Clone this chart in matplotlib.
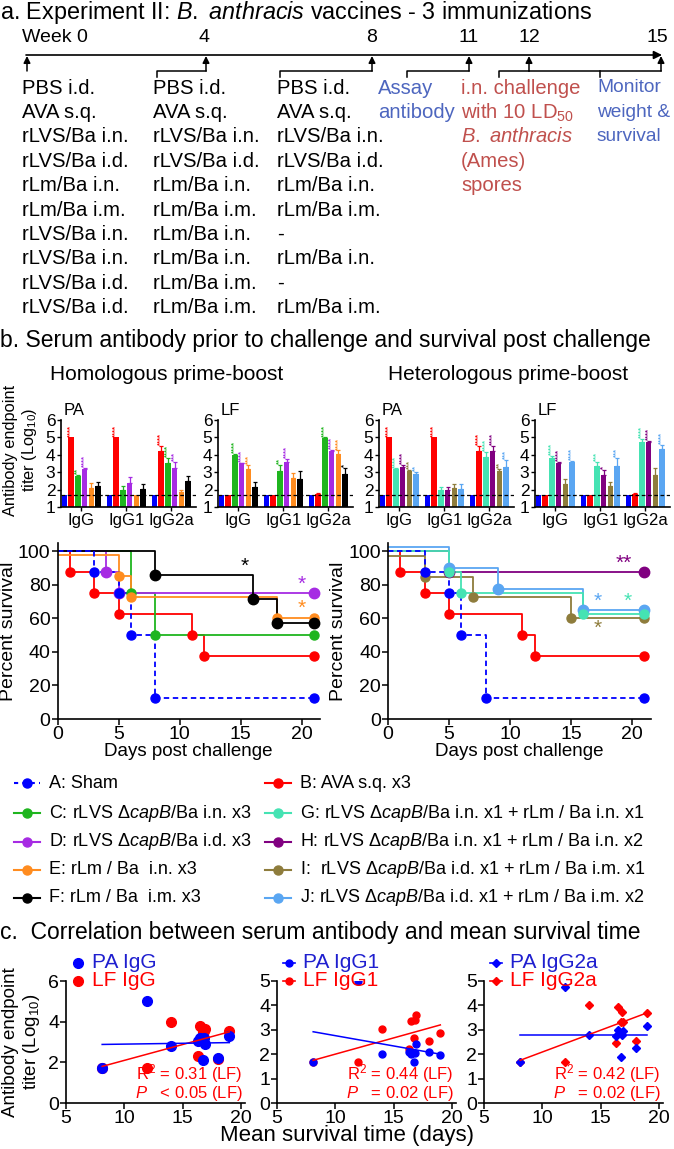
import numpy as np
import matplotlib
matplotlib.use("Agg")
import matplotlib.pyplot as plt

plt.rcParams['font.family'] = ['Liberation Sans', 'DejaVu Sans']
plt.rcParams['mathtext.fontset'] = 'custom'
plt.rcParams['mathtext.rm'] = 'Liberation Sans'
plt.rcParams['mathtext.it'] = 'Liberation Sans:italic'
plt.rcParams['mathtext.bf'] = 'Liberation Sans:bold'
plt.rcParams['axes.linewidth'] = 1.2

W, H = 674, 1149

# ---------------- DATA ----------------
week_labels = ["Week 0", "4", "8", "11", "12", "15"]
sched_wk0 = ["PBS i.d.", "AVA s.q.", "rLVS/Ba i.n.", "rLVS/Ba i.d.", "rLm/Ba i.n.", "rLm/Ba i.m.",
             "rLVS/Ba i.n.", "rLVS/Ba i.n.", "rLVS/Ba i.d.", "rLVS/Ba i.d."]
sched_wk4 = ["PBS i.d.", "AVA s.q.", "rLVS/Ba i.n.", "rLVS/Ba i.d.", "rLm/Ba i.n.", "rLm/Ba i.m.",
             "rLm/Ba i.n.", "rLm/Ba i.n.", "rLm/Ba i.m.", "rLm/Ba i.m."]
sched_wk8 = ["PBS i.d.", "AVA s.q.", "rLVS/Ba i.n.", "rLVS/Ba i.d.", "rLm/Ba i.n.", "rLm/Ba i.m.",
             "-", "rLm/Ba i.n.", "-", "rLm/Ba i.m."]
assay_text = ["Assay", "antibody"]
challenge_text = ["i.n. challenge", "with 10 LD$_{50}$", "$\\it{B.\\ anthracis}$", "(Ames)", "spores"]
monitor_text = ["Monitor", "weight &", "survival"]

isotypes = ["IgG", "IgG1", "IgG2a"]
homo_colors = ["#0000FF", "#FF0000", "#1FB51F", "#A62BE3", "#FF8C1F", "#000000"]
hetero_colors = ["#0000FF", "#FF0000", "#45E3B3", "#800080", "#8E7C3C", "#5AA6F2"]

# rows = isotype (IgG, IgG1, IgG2a), columns = groups
homo_pa = [[1.7, 5.0, 2.8, 3.2, 2.1, 2.2], [1.7, 5.0, 2.0, 2.4, 1.7, 2.05], [1.7, 4.2, 3.55, 3.25, 1.85, 2.5]]
homo_pa_err = [[0, 0, 0.05, 0.05, 0.3, 0.25], [0, 0, 0.2, 0.3, 0, 0.25], [0, 0.3, 0.25, 0.35, 0.15, 0.3]]
homo_pa_stars = [[0, 4, 2, 4, 0, 0], [0, 4, 0, 0, 0, 0], [0, 4, 4, 3, 0, 0]]
homo_lf = [[1.7, 1.7, 4.0, 3.5, 3.2, 2.15], [1.7, 1.7, 3.05, 3.6, 2.65, 2.6], [1.7, 1.75, 4.95, 4.2, 4.05, 2.9]]
homo_lf_err = [[0, 0, 0.05, 0.03, 0.2, 0.3], [0, 0, 0.35, 0.15, 0.3, 0.45], [0, 0.03, 0.05, 0.1, 0.2, 0.35]]
homo_lf_stars = [[0, 0, 4, 4, 3, 0], [0, 0, 2, 4, 0, 0], [0, 0, 4, 4, 4, 1]]
hetero_pa = [[1.7, 5.0, 3.2, 3.3, 3.05, 2.9], [1.7, 5.0, 1.95, 1.95, 2.1, 2.05], [1.7, 4.2, 3.85, 4.2, 3.05, 3.3]]
hetero_pa_err = [[0, 0, 0.02, 0.1, 0.1, 0.1], [0, 0, 0.2, 0.2, 0.25, 0.25], [0, 0.3, 0.3, 0.3, 0.15, 0.4]]
hetero_pa_stars = [[0, 4, 4, 4, 3, 2], [0, 4, 0, 0, 0, 0], [0, 4, 4, 4, 2, 3]]
hetero_lf = [[1.7, 1.7, 3.8, 3.55, 2.3, 3.6], [1.7, 1.7, 3.35, 2.85, 2.2, 3.35], [1.7, 1.75, 4.75, 4.75, 2.85, 4.35]]
hetero_lf_err = [[0, 0, 0.15, 0.05, 0.3, 0.05], [0, 0, 0.25, 0.3, 0.25, 0.45], [0, 0.03, 0.15, 0.05, 0.4, 0.2]]
hetero_lf_stars = [[0, 0, 4, 4, 0, 4], [0, 0, 3, 1, 0, 3], [0, 0, 4, 4, 0, 4]]
detection_limit = 1.7

# survival: (days, percent)
surv_A_t = [0, 3, 5, 6, 8, 21];        surv_A = [100, 87.5, 75, 50, 12.5, 12.5]
surv_B_t = [0, 1, 3, 5, 11, 12, 21];   surv_B = [100, 87.5, 75, 62.5, 50, 37.5, 37.5]
surv_C_t = [0, 6, 8, 21];              surv_C = [100, 75, 50, 50]
surv_D_t = [0, 4, 5, 21];              surv_D = [100, 87.5, 75, 75]
surv_E_t = [0, 5, 6, 18, 21];          surv_E = [98, 85.5, 73, 60.5, 60.5]
surv_F_t = [0, 8, 16, 18, 21];         surv_F = [100, 85.7, 71.4, 57.1, 57.1]
surv_G_t = [0, 5, 6, 16, 21];          surv_G = [100.5, 87.5, 75, 62.5, 62.5]
surv_H_t = [0, 5, 21];                 surv_H = [100, 87.5, 87.5]
surv_I_t = [0, 3, 7, 15, 21];          surv_I = [97.5, 85, 72.5, 60, 60]
surv_J_t = [0, 5, 9, 16, 21];          surv_J = [102.5, 90, 77.5, 65, 65]

legend_left = ["A: Sham", "C: rLVS $\\it{\\Delta capB}$/Ba i.n. x3", "D: rLVS $\\it{\\Delta capB}$/Ba i.d. x3",
               "E: rLm / Ba  i.n. x3", "F: rLm / Ba  i.m. x3"]
legend_right = ["B: AVA s.q. x3", "G: rLVS $\\it{\\Delta capB}$/Ba i.n. x1 + rLm / Ba i.n. x1",
                "H: rLVS $\\it{\\Delta capB}$/Ba i.n. x1 + rLm / Ba i.n. x2",
                "I:  rLVS $\\it{\\Delta capB}$/Ba i.d. x1 + rLm / Ba i.m. x1",
                "J: rLVS $\\it{\\Delta capB}$/Ba i.d. x1 + rLm / Ba i.m. x2"]

# correlation: mean survival time vs titers
mst = [8.1, 11.9, 14.0, 16.3, 16.5, 16.7, 16.8, 16.9, 18.0, 19.0]
pa_igg = [1.7, 5.0, 2.8, 3.05, 3.2, 2.1, 3.2, 2.9, 2.2, 3.3]
lf_igg = [1.7, 1.7, 4.0, 2.3, 3.8, 3.5, 3.55, 3.65, 2.15, 3.55]
pa_igg1 = [1.7, 5.0, 2.0, 2.1, 2.0, 1.7, 2.05, 2.4, 2.1, 1.95]
lf_igg1 = [1.7, 1.7, 3.05, 2.2, 3.35, 2.65, 3.4, 3.6, 2.55, 2.85]
pa_igg2a = [1.7, 4.75, 2.8, 2.75, 3.0, 1.9, 2.8, 2.95, 2.25, 3.15]
lf_igg2a = [1.7, 1.7, 4.0, 2.45, 3.95, 3.3, 3.75, 3.3, 2.55, 3.7]
fit_x = [8.1, 19.0]
pa_igg_fit = [2.88, 2.97]
lf_igg_fit = [1.8, 3.5]
pa_igg1_fit = [2.92, 2.0]
lf_igg1_fit = [1.75, 3.2]
pa_igg2a_fit = [2.8, 2.8]
lf_igg2a_fit = [1.75, 3.7]
stats_text = [("R$^2$ = 0.31 (LF)", "$\\it{P}$   < 0.05 (LF)"),
              ("R$^2$ = 0.44 (LF)", "$\\it{P}$   = 0.02 (LF)"),
              ("R$^2$ = 0.42 (LF)", "$\\it{P}$   = 0.02 (LF)")]

# ---------------- FIGURE ----------------
fig = plt.figure(figsize=(W / 100, H / 100), dpi=100)


def rect(x0, y0, x1, y1):
    return [x0 / W, 1 - y1 / H, (x1 - x0) / W, (y1 - y0) / H]


ov = fig.add_axes([0, 0, 1, 1])
ov.set_xlim(0, W)
ov.set_ylim(H, 0)
ov.axis('off')
ov.set_zorder(10)

ROWFS = 14.6
# ---- panel a ----
ov.text(0, 12, "a. Experiment II: $\\it{B.\\ anthracis}$ vaccines - 3 immunizations", fontsize=16.8, va='center')
week_x = [22, 204, 372, 469, 529, 657]
for i, (lab, x) in enumerate(zip(week_labels, week_x)):
    ov.text(x, 38, lab, fontsize=14, va='center', ha='left' if i == 0 else 'center')
ov.annotate('', xy=(662, 55), xytext=(26, 55),
            arrowprops=dict(arrowstyle='-|>', color='k', lw=1.2, mutation_scale=12, shrinkA=0, shrinkB=0))
arrow_x = [27, 206, 372, 469, 529, 661]
bracket_left = [None, 157, 280, 407, 499, None]
for ax_, bl in zip(arrow_x, bracket_left):
    ov.annotate('', xy=(ax_, 56), xytext=(ax_, 71),
                arrowprops=dict(arrowstyle='-|>', color='k', lw=1.1, mutation_scale=10, shrinkA=0, shrinkB=0))
    if bl is not None:
        ov.plot([bl, bl, ax_], [77, 71, 71], color='k', lw=1.1)
ov.plot([529, 661], [71, 71], color='k', lw=1.1)
ov.plot([600, 600], [71, 77], color='k', lw=1.1)

row_y = [88 + 24.4 * i for i in range(10)]
for colx, rows in zip([22, 153, 277], [sched_wk0, sched_wk4, sched_wk8]):
    for y, t in zip(row_y, rows):
        ov.text(colx, y, t, fontsize=ROWFS, va='center')
for y, t in zip(row_y, assay_text):
    ov.text(378, y, t, fontsize=ROWFS, va='center', color='#4D66BF')
for y, t in zip(row_y, challenge_text):
    ov.text(461, y, t, fontsize=ROWFS, va='center', color='#C0504D')
for y, t in zip(row_y, monitor_text):
    ov.text(597, y, t, fontsize=13.8, va='center', color='#4D66BF')

# ---- panel b ----
ov.text(0, 341, "b. Serum antibody prior to challenge and survival post challenge", fontsize=16.5, va='center')
ov.text(167, 374, "Homologous prime-boost", fontsize=15, va='center', ha='center')
ov.text(508, 374, "Heterologous prime-boost", fontsize=15, va='center', ha='center')
ov.text(21, 450, "Antibody endpoint\ntiter (Log$_{10}$)", fontsize=11.8, rotation=90,
        va='center', ha='center', multialignment='center', linespacing=1.1)


def bar_panel(x0, values, errs, stars, colors, label):
    ax = fig.add_axes(rect(x0, 420, x0 + 135, 507))
    pitch = 0.15
    for gi in range(3):
        for bi in range(6):
            x = gi + (bi - 2.5) * pitch
            v = values[gi][bi]
            ax.bar(x, v - 1, bottom=1, width=0.122, color=colors[bi], zorder=2)
            e = errs[gi][bi]
            if e > 0:
                ax.errorbar(x, v, yerr=[[0], [e]], color=colors[bi], capsize=1.6, elinewidth=0.9,
                            capthick=0.9, zorder=2)
            n = stars[gi][bi]
            if n:
                ax.text(x, v + e + 0.05, "*" * n, rotation=90, ha='center', va='bottom',
                        fontsize=5.5, color=colors[bi], fontweight='bold')
    ax.axhline(detection_limit, color='k', ls=(0, (3, 2)), lw=0.9, zorder=3)
    ax.set_xlim(-0.45, 2.55)
    ax.set_ylim(1, 6)
    ax.set_yticks([1, 2, 3, 4, 5, 6])
    ax.set_xticks([0, 1, 2])
    ax.set_xticklabels(isotypes)
    ax.tick_params(axis='y', labelsize=12.5, length=3, width=1, pad=1)
    ax.tick_params(axis='x', labelsize=12, length=3, width=1, pad=1)
    for s in ['top', 'right']:
        ax.spines[s].set_visible(False)
    ax.text(0.02, 1.02, label, transform=ax.transAxes, fontsize=12, va='bottom')
    return ax


bar_panel(61, homo_pa, homo_pa_err, homo_pa_stars, homo_colors, "PA")
bar_panel(218, homo_lf, homo_lf_err, homo_lf_stars, homo_colors, "LF")
bar_panel(379, hetero_pa, hetero_pa_err, hetero_pa_stars, hetero_colors, "PA")
bar_panel(535, hetero_lf, hetero_lf_err, hetero_lf_stars, hetero_colors, "LF")


def surv_panel(x0, curves, stars):
    ax = fig.add_axes(rect(x0, 543, x0 + 262.5, 719))
    for t, s, c, ls, ms in curves:
        ax.step(t, s, where='post', color=c, lw=1.3, ls=ls, zorder=2)
        ax.plot(t[1:], s[1:], 'o', color=c, ms=ms, zorder=3)
    for x, y, txt, c in stars:
        ax.text(x, y, txt, color=c, fontsize=15, ha='center', va='center')
    ax.set_xlim(0, 21.5)
    ax.set_ylim(0, 105)
    ax.set_xticks([0, 5, 10, 15, 20])
    ax.set_yticks([0, 20, 40, 60, 80, 100])
    ax.tick_params(labelsize=14, length=4, width=1.1, pad=1)
    for s in ['top', 'right']:
        ax.spines[s].set_visible(False)
    ax.set_ylabel("Percent survival", fontsize=14, labelpad=1)
    ax.set_xlabel("Days post challenge", fontsize=13.5, labelpad=0)
    return ax


cA, cB = homo_colors[0], homo_colors[1]
surv_panel(57.5, [
    (surv_B_t, surv_B, cB, '-', 6.5),
    (surv_C_t, surv_C, homo_colors[2], '-', 6.5),
    (surv_D_t, surv_D, homo_colors[3], '-', 7.5),
    (surv_E_t, surv_E, homo_colors[4], '-', 6.5),
    (surv_F_t, surv_F, homo_colors[5], '-', 7.5),
    (surv_A_t, surv_A, cA, (0, (3, 2)), 6.5),
], [(15.3, 91, "*", 'k'), (20, 80.5, "*", homo_colors[3]), (20, 66, "*", homo_colors[4])])

surv_panel(388, [
    (surv_B_t, surv_B, cB, '-', 6.5),
    (surv_I_t, surv_I, hetero_colors[4], '-', 6.5),
    (surv_H_t, surv_H, hetero_colors[3], '-', 7.5),
    (surv_J_t, surv_J, hetero_colors[5], '-', 7.5),
    (surv_G_t, surv_G, hetero_colors[2], '-', 6.5),
    (surv_A_t, surv_A, cA, (0, (3, 2)), 6.5),
], [(19.3, 93, "**", hetero_colors[3]), (17.2, 70.5, "*", hetero_colors[5]),
    (19.6, 70.5, "*", hetero_colors[2]), (17.2, 54, "*", hetero_colors[4])])

# legend
leg_y = [783, 813, 842, 870, 898]
left_cols = [homo_colors[0]] + homo_colors[2:]
right_cols = [homo_colors[1]] + hetero_colors[2:]
for i, (y, t, c) in enumerate(zip(leg_y, legend_left, left_cols)):
    ov.plot([14, 40], [y, y], color=c, lw=1.5, ls=(0, (2, 2)) if i == 0 else '-')
    ov.plot([27], [y], 'o', color=c, ms=6.5)
    ov.text(49, y, t, fontsize=13, va='center')
for y, t, c in zip(leg_y, legend_right, right_cols):
    ov.plot([265, 291], [y, y], color=c, lw=1.5)
    ov.plot([278], [y], 'o', color=c, ms=6.5)
    ov.text(300, y, t, fontsize=13, va='center')

# ---- panel c ----
ov.text(0, 933, "c.  Correlation between serum antibody and mean survival time", fontsize=16.5, va='center')
ov.text(22, 1042, "Antibody endpoint\ntiter (Log$_{10}$)", fontsize=13.5, rotation=90,
        va='center', ha='center', multialignment='center', linespacing=1.1)
ov.text(347, 1136, "Mean survival time (days)", fontsize=16, va='center', ha='center')

BLUE_T = '#1F1FCF'
scatter_specs = [
    (66, pa_igg, lf_igg, pa_igg_fit, lf_igg_fit, 'o', 7, 6, ("PA IgG", "LF IgG"), False),
    (277, pa_igg1, lf_igg1, pa_igg1_fit, lf_igg1_fit, 'o', 5, 5, ("PA IgG1", "LF IgG1"), True),
    (484, pa_igg2a, lf_igg2a, pa_igg2a_fit, lf_igg2a_fit, 'D', 4.5, 5, ("PA IgG2a", "LF IgG2a"), True),
]
for k, (x0, pa, lf, paf, lff, mk, ms, ymax, labs, legline) in enumerate(scatter_specs):
    ax = fig.add_axes(rect(x0, 981, x0 + 178.5, 1103))
    ax.plot(mst, lf, mk, color='#FF0000', ms=ms, ls='none', zorder=2)
    ax.plot(mst, pa, mk, color='#0000FF', ms=ms, ls='none', zorder=3)
    ax.plot(fit_x, lff, color='#FF0000', lw=1.1, zorder=4)
    ax.plot(fit_x, paf, color='#0000FF', lw=1.1, zorder=4)
    ax.set_xlim(5, 20.3)
    ax.set_ylim(0, ymax)
    ax.set_xticks([5, 10, 15, 20])
    ax.set_yticks([0, 2, 4, 6] if ymax == 6 else [0, 1, 2, 3, 4, 5])
    ax.tick_params(labelsize=14, length=4, width=1.1, pad=1)
    for s in ['top', 'right']:
        ax.spines[s].set_visible(False)
    ax.text(0.99, 0.245, stats_text[k][0], transform=ax.transAxes, color='#FF0000', fontsize=12,
            ha='right', va='center', zorder=6)
    ax.text(0.99, 0.08, stats_text[k][1], transform=ax.transAxes, color='#FF0000', fontsize=12,
            ha='right', va='center', zorder=6)
    # legend
    mx = x0 + 12
    for y, lab, c, tc in [(963, labs[0], '#0000FF', BLUE_T), (981, labs[1], '#FF0000', '#FF0000')]:
        if legline:
            ov.plot([mx - 6, mx + 6], [y, y], color=c, lw=1.2)
        ov.plot([mx], [y], mk, color=c, ms=ms)
        ov.text(mx + 14, y, lab, fontsize=15, color=tc, va='center')

fig.savefig("out.png", dpi=100)
